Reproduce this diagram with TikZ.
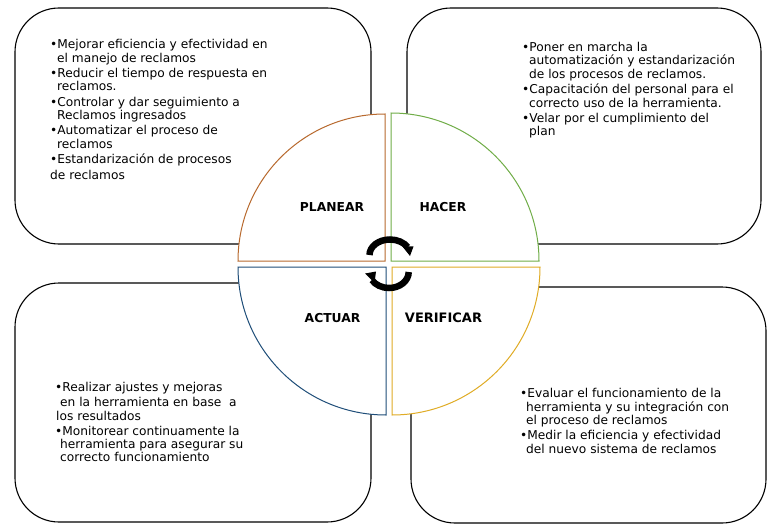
\documentclass[tikz,border=0pt]{standalone}
\usepackage{fontspec}
\setmainfont{DejaVu Sans}
\definecolor{qbrown}{HTML}{B8692E}
\definecolor{qgreen}{HTML}{70AD47}
\definecolor{qgold}{HTML}{E0AC25}
\definecolor{qblue}{HTML}{1F4E79}
\tikzset{
  x=1pt,y=-1pt,
  roundbox/.style={draw=black,line width=1.1pt,fill=white,rounded corners=44pt},
  quarter/.style={line width=1pt,fill=white},
  phase/.style={font=\fontsize{12.3}{13}\selectfont\bfseries,inner sep=0pt},
  items/.style={font=\fontsize{12.2}{13.4}\selectfont,align=left,inner sep=0pt,anchor=north west},
  cyc/.style={line width=6.5pt,draw=black},
  cychead/.style={fill=black,draw=none}
}
\begin{document}
\begin{tikzpicture}
\useasboundingbox (0,0) rectangle (778,532);
\fill[white] (0,0) rectangle (778,532);
% corner boxes
\draw[roundbox] (15,8) rectangle (371,244);
\draw[roundbox] (407,8) rectangle (761,244);
\draw[roundbox] (15,283) rectangle (371,522);
\draw[roundbox] (411,287) rectangle (766,523);
% quadrants
\draw[quarter,draw=qbrown] (385,261) -- (238,261) arc[start angle=180,end angle=90,radius=147pt] -- cycle;
\draw[quarter,draw=qgreen] (391,261) -- (391,113) arc[start angle=90,end angle=0,radius=148pt] -- cycle;
\draw[quarter,draw=qblue] (386,267) -- (238,267) arc[start angle=180,end angle=270,radius=148pt] -- cycle;
\draw[quarter,draw=qgold] (392,267) -- (540,267) arc[start angle=0,end angle=-90,radius=148pt] -- cycle;
% phase labels
\node[phase] (planear) at (332,207) {PLANEAR};
\node[phase] (hacer) at (443,207) {HACER};
\node[phase] (actuar) at (332.5,318) {ACTUAR};
\node[phase,font=\fontsize{13}{13}\selectfont\bfseries] (verificar) at (443.5,318) {VERIFICAR};
% cycle arrows
\draw[cyc] (369.5,255) arc[start angle=180,end angle=30,x radius=20.5pt,y radius=15.5pt];
\fill[cychead] (402,246) -- (413.5,246.5) -- (410,256) -- cycle;
\draw[cyc] (408.7,272) arc[start angle=0,end angle=-150,x radius=19.7pt,y radius=16pt];
\fill[cychead] (365,273.5) -- (376,271.5) -- (374.5,283) -- cycle;
% texts
\node[items] (tl) at (50,39.5) {•Mejorar eficiencia y efectividad en\\
\hspace*{7pt}el manejo de reclamos\\[1.5pt]
•Reducir el tiempo de respuesta en\\
\hspace*{7pt}reclamos.\\[2pt]
•Controlar y dar seguimiento a\\
\hspace*{7pt}Reclamos ingresados\\[2pt]
•Automatizar el proceso de\\
\hspace*{7pt}reclamos\\[2pt]
•Estandarización de procesos\\[2pt]
de reclamos};
\node[items] (tr) at (522,42) {•Poner en marcha la\\
\hspace*{7pt}automatización y estandarización\\
\hspace*{7pt}de los procesos de reclamos.\\[2pt]
•Capacitación del personal para el\\
\hspace*{7pt}correcto uso de la herramienta.\\[2pt]
•Velar por el cumplimiento del\\
\hspace*{7pt}plan};
\node[items] (bl) at (55,382) {•Realizar ajustes y mejoras\\[2pt]
\hspace*{5pt}en la herramienta en base\ \ a\\
\hspace*{1pt}los resultados\\[1.5pt]
•Monitorear continuamente la\\
\hspace*{5pt}herramienta para asegurar su\\
\hspace*{5pt}correcto funcionamiento};
\node[items] (br) at (520,388.5) {•Evaluar el funcionamiento de la\\
\hspace*{6pt}herramienta y su integración con\\
\hspace*{6pt}el proceso de reclamos\\[1.5pt]
•Medir la eficiencia y efectividad\\
\hspace*{6pt}del nuevo sistema de reclamos};
\end{tikzpicture}
\end{document}
